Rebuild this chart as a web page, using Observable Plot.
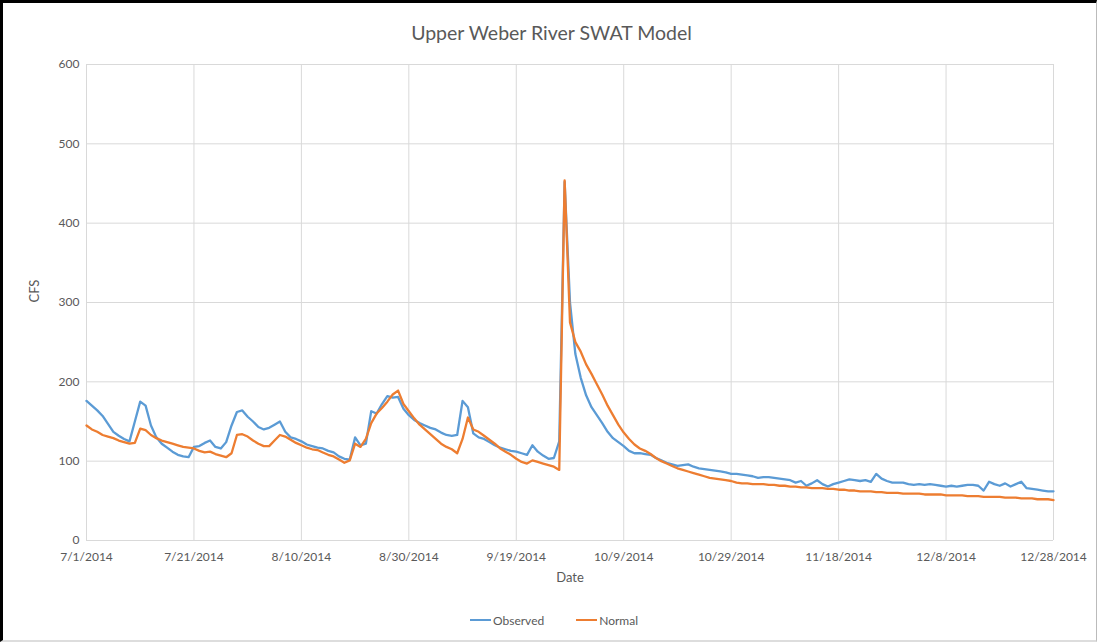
<!DOCTYPE html>
<html>
<head>
<meta charset="utf-8">
<script src="https://cdn.jsdelivr.net/npm/d3@7"></script>
<script src="https://cdn.jsdelivr.net/npm/@observablehq/plot@0.6"></script>
<style>
  html, body { margin: 0; padding: 0; background: #fff; }
  #wrap { position: relative; width: 1097px; height: 642px; overflow: hidden; background: #fff; font-family: Lato, "Open Sans", sans-serif; color: #595959; }
  #frame { position: absolute; left: 0; top: 0; width: 1097px; height: 642px; box-sizing: border-box;
           border-left: 3px solid #000; border-top: 3px solid #000; border-right: 1px solid #bbb; border-bottom: 2px solid #ddd; pointer-events: none; }
  #title { position: absolute; left: 0; width: 1097px; top: 21px; height: 24px; line-height: 24px; text-align: center; font-size: 19.5px; color: #595959; padding-left: 6px; box-sizing: border-box; }
  #chart { position: absolute; left: 0; top: 50px; }
  #legend { position: absolute; left: 470px; top: 611px; height: 18px; display: flex; align-items: center; font-size: 12px; color: #595959; }
  #legend .item { display: flex; align-items: center; margin-right: 32px; }
  #legend .sw { width: 21px; height: 2px; margin-right: 2px; }
</style>
</head>
<body>
<div id="wrap">
  <div id="title">Upper Weber River SWAT Model</div>
  <div id="chart"></div>
  <div id="legend"></div>
  <div id="frame"></div>
</div>
<script>
// ---- Data ----
const startDate = "2014-07-01"; // daily series, one value per day
const seriesNames = ["Observed", "Normal"];
const seriesColors = ["#5B9BD5", "#ED7D31"];

const observed = [
176,170,164,157,147,137,132,128,125,150,
175,170,145,130,122,117,112,108,106,105,
118,119,123,126,118,116,124,145,162,164,
156,150,143,140,142,146,150,137,130,128,
125,121,119,117,116,113,111,106,103,102,
130,120,122,163,160,172,182,180,181,166,
158,152,148,145,142,140,136,133,132,133,
176,168,135,130,128,124,120,117,115,113,
112,110,108,120,112,107,103,104,125,452,
300,235,205,183,168,158,148,137,129,124,
119,113,110,110,109,108,104,101,98,96,
94,95,96,93,91,90,89,88,87,86,
84,84,83,82,81,79,80,80,79,78,
77,76,73,75,69,72,76,71,68,71,
73,75,77,76,75,76,74,84,78,75,
73,73,73,71,70,71,70,71,70,69,
68,69,68,69,70,70,69,63,74,71,
69,72,68,71,74,66,65,64,63,62,
62];

const normal = [
145,140,137,133,131,129,126,124,122,123,
141,139,133,129,126,124,122,120,118,117,
116,113,111,112,109,107,105,110,133,134,
131,126,122,119,119,126,133,131,127,123,
120,117,115,114,111,108,106,102,98,101,
122,118,128,148,160,167,175,184,189,172,
163,154,146,140,134,128,122,118,115,110,
128,155,140,137,132,127,122,116,112,108,
103,99,97,101,99,97,95,93,89,454,
275,250,238,222,210,197,184,170,158,146,
136,128,121,116,113,109,104,100,97,94,
91,89,87,85,83,81,79,78,77,76,
75,73,72,72,71,71,71,70,70,69,
69,68,68,67,67,66,66,66,65,65,
64,64,63,63,62,62,62,61,61,60,
60,60,59,59,59,59,58,58,58,58,
57,57,57,57,56,56,56,55,55,55,
55,54,54,54,53,53,53,52,52,52,
51];

const xTickLabels = ["7/1/2014","7/21/2014","8/10/2014","8/30/2014","9/19/2014","10/9/2014","10/29/2014","11/18/2014","12/8/2014","12/28/2014"];
const yTicks = [0,100,200,300,400,500,600];
const yDomain = [0,600];

// ---- Build tables ----
const parseMDY = s => { const [m,d,y] = s.split("/").map(Number); return new Date(Date.UTC(y, m-1, d)); };
const start = new Date(startDate + "T00:00:00Z");
const dateAt = i => d3.utcDay.offset(start, i);
const xTicks = xTickLabels.map(parseMDY);
const labelByTime = new Map(xTicks.map((d,i) => [+d, xTickLabels[i]]));

const obsData = observed.map((v,i) => ({date: dateAt(i), value: v, series: "Observed"}));
const norData = normal.map((v,i) => ({date: dateAt(i), value: v, series: "Normal"}));

const chart = Plot.plot({
  width: 1097,
  height: 540,
  marginLeft: 86,
  marginRight: 44,
  marginTop: 14,
  marginBottom: 50,
  style: {fontFamily: "Lato, 'Open Sans', sans-serif", fontSize: "12px", color: "#595959", background: "transparent", overflow: "visible"},
  x: {type: "utc", domain: [xTicks[0], xTicks[xTicks.length-1]], label: null},
  y: {domain: yDomain, label: null},
  color: {domain: seriesNames, range: seriesColors},
  marks: [
    Plot.gridY(yTicks, {stroke: "#d9d9d9", strokeOpacity: 1, strokeWidth: 1}),
    Plot.gridX(xTicks, {stroke: "#d9d9d9", strokeOpacity: 1, strokeWidth: 1}),
    Plot.axisY(yTicks, {tickSize: 0, tickPadding: 7, label: null, fill: "#595959"}),
    Plot.axisX(xTicks, {tickSize: 0, tickPadding: 12, label: null, fill: "#595959", tickFormat: d => labelByTime.get(+d)}),
    Plot.text(["Date"], {frameAnchor: "bottom", dy: 41, fill: "#595959", fontSize: 13}),
    Plot.text(["CFS"], {frameAnchor: "left", dx: -52, rotate: -90, fill: "#595959", fontSize: 13}),
    Plot.line(obsData, {x: "date", y: "value", stroke: "series", strokeWidth: 2.3, curve: "linear", strokeLinejoin: "round"}),
    Plot.line(norData, {x: "date", y: "value", stroke: "series", strokeWidth: 2.3, curve: "linear", strokeLinejoin: "round"})
  ]
});
document.getElementById("chart").appendChild(chart);

// ---- Legend ----
const legend = document.getElementById("legend");
seriesNames.forEach((name, i) => {
  const item = document.createElement("div");
  item.className = "item";
  const sw = document.createElement("span");
  sw.className = "sw";
  sw.style.background = seriesColors[i];
  const t = document.createElement("span");
  t.textContent = name;
  item.appendChild(sw);
  item.appendChild(t);
  legend.appendChild(item);
});
</script>
</body>
</html>
